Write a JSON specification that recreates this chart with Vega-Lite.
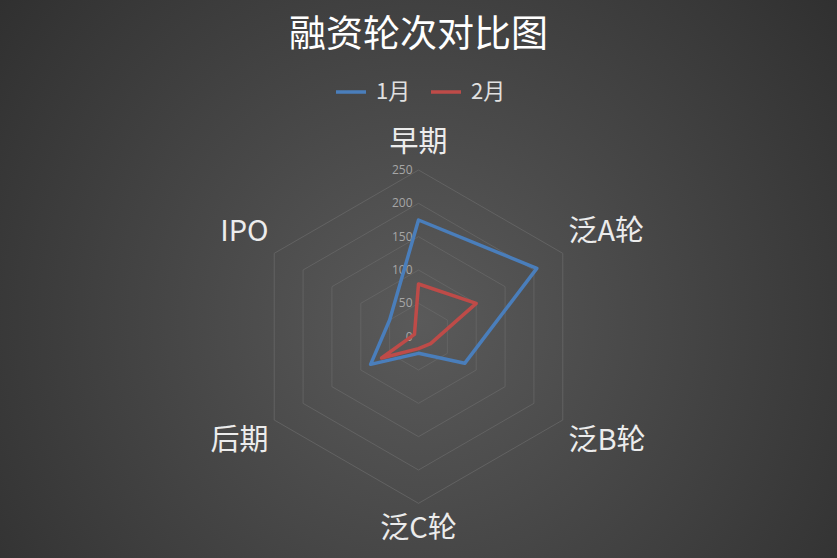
{
  "$schema": "https://vega.github.io/schema/vega-lite/v6.json",
  "autosize": {"type": "fit", "contains": "padding"},
  "width": 837,
  "height": 558,
  "padding": 0,
  "background": "#2a2a2a",
  "title": {
    "text": "融资轮次对比图",
    "fontSize": 37,
    "font": "Noto Sans CJK SC",
    "fontWeight": "normal",
    "color": "#ffffff",
    "anchor": "middle",
    "baseline": "middle",
    "offset": -73
  },
  "datasets": {
    "rounds": [
      {"cat": "早期", "month": "1月", "v": 175},
      {"cat": "泛A轮", "month": "1月", "v": 205},
      {"cat": "泛B轮", "month": "1月", "v": 80},
      {"cat": "泛C轮", "month": "1月", "v": 25},
      {"cat": "后期", "month": "1月", "v": 83},
      {"cat": "IPO", "month": "1月", "v": 50},
      {"cat": "早期", "month": "2月", "v": 79},
      {"cat": "泛A轮", "month": "2月", "v": 100},
      {"cat": "泛B轮", "month": "2月", "v": 21},
      {"cat": "泛C轮", "month": "2月", "v": 18},
      {"cat": "后期", "month": "2月", "v": 64},
      {"cat": "IPO", "month": "2月", "v": 7}
    ],
    "rings": [
      {"level": 50, "k": [0, 1, 2, 3, 4, 5]},
      {"level": 100, "k": [0, 1, 2, 3, 4, 5]},
      {"level": 150, "k": [0, 1, 2, 3, 4, 5]},
      {"level": 200, "k": [0, 1, 2, 3, 4, 5]},
      {"level": 250, "k": [0, 1, 2, 3, 4, 5]}
    ],
    "ticks": [
      {"level": 0}, {"level": 50}, {"level": 100},
      {"level": 150}, {"level": 200}, {"level": 250}
    ],
    "cats": [
      {"cat": "早期"}, {"cat": "泛A轮"}, {"cat": "泛B轮"},
      {"cat": "泛C轮"}, {"cat": "后期"}, {"cat": "IPO"}
    ]
  },
  "layer": [
    {
      "data": {"name": "rings"},
      "transform": [
        {"flatten": ["k"]},
        {"calculate": "datum.level * sin(datum.k * PI / 3)", "as": "px"},
        {"calculate": "datum.level * cos(datum.k * PI / 3)", "as": "py"}
      ],
      "mark": {"type": "line", "interpolate": "linear-closed", "stroke": "#676767", "strokeWidth": 0.8},
      "encoding": {
        "x": {"field": "px", "type": "quantitative", "scale": {"domain": [-628, 628], "nice": false, "zero": false}, "axis": null},
        "y": {"field": "py", "type": "quantitative", "scale": {"domain": [-332, 505], "nice": false, "zero": false}, "axis": null},
        "detail": {"field": "level"},
        "order": {"field": "k"}
      }
    },
    {
      "data": {"name": "ticks"},
      "mark": {"type": "text", "align": "right", "baseline": "middle", "dx": -6, "fontSize": 12, "font": "Open Sans", "color": "#a6a6a6"},
      "encoding": {
        "x": {"datum": 0, "type": "quantitative", "scale": {"domain": [-628, 628], "nice": false, "zero": false}},
        "y": {"field": "level", "type": "quantitative", "scale": {"domain": [-332, 505], "nice": false, "zero": false}},
        "text": {"field": "level"}
      }
    },
    {
      "data": {"name": "rounds"},
      "transform": [
        {"calculate": "indexof(['早期','泛A轮','泛B轮','泛C轮','后期','IPO'], datum.cat)", "as": "idx"},
        {"calculate": "datum.v * sin(datum.idx * PI / 3)", "as": "px"},
        {"calculate": "datum.v * cos(datum.idx * PI / 3)", "as": "py"}
      ],
      "mark": {"type": "line", "interpolate": "linear-closed", "strokeWidth": 3.5, "strokeJoin": "round"},
      "encoding": {
        "x": {"field": "px", "type": "quantitative", "scale": {"domain": [-628, 628], "nice": false, "zero": false}},
        "y": {"field": "py", "type": "quantitative", "scale": {"domain": [-332, 505], "nice": false, "zero": false}},
        "order": {"field": "idx"},
        "color": {
          "field": "month",
          "type": "nominal",
          "scale": {"domain": ["1月", "2月"], "range": ["#4a7ebb", "#be4b48"]},
          "legend": {
            "orient": "none",
            "legendX": 334,
            "legendY": 75,
            "direction": "horizontal",
            "title": null,
            "symbolType": "stroke",
            "symbolSize": 900,
            "symbolStrokeWidth": 3.5,
            "labelFontSize": 22,
            "labelFont": "Noto Sans CJK SC",
            "labelColor": "#e0e0e0",
            "labelOffset": 8,
            "columnPadding": 13
          }
        }
      }
    },
    {
      "data": {"name": "cats"},
      "transform": [
        {"calculate": "indexof(['早期','泛A轮','泛B轮','泛C轮','后期','IPO'], datum.cat)", "as": "idx"},
        {"calculate": "datum.idx == 0 || datum.idx == 3 ? 0 : (datum.idx < 3 ? 225 : -225)", "as": "lx"},
        {"calculate": "datum.idx == 0 ? 290 : (datum.idx == 3 ? -288 : (datum.idx == 1 || datum.idx == 5 ? 157 : -157))", "as": "ly"}
      ],
      "mark": {
        "type": "text",
        "baseline": "middle",
        "align": {"expr": "datum.idx == 0 || datum.idx == 3 ? 'center' : (datum.idx < 3 ? 'left' : 'right')"},
        "fontSize": 29,
        "font": "Noto Sans CJK SC",
        "color": "#ececec"
      },
      "encoding": {
        "x": {"field": "lx", "type": "quantitative", "scale": {"domain": [-628, 628], "nice": false, "zero": false}},
        "y": {"field": "ly", "type": "quantitative", "scale": {"domain": [-332, 505], "nice": false, "zero": false}},
        "text": {"field": "cat"}
      }
    }
  ],
  "config": {
    "view": {
      "stroke": null,
      "fill": {
        "gradient": "radial",
        "x1": 0.5, "y1": 0.55, "r1": 0,
        "x2": 0.5, "y2": 0.55, "r2": 0.75,
        "stops": [
          {"offset": 0, "color": "#5a5a5a"},
          {"offset": 1, "color": "#282828"}
        ]
      }
    }
  }
}
